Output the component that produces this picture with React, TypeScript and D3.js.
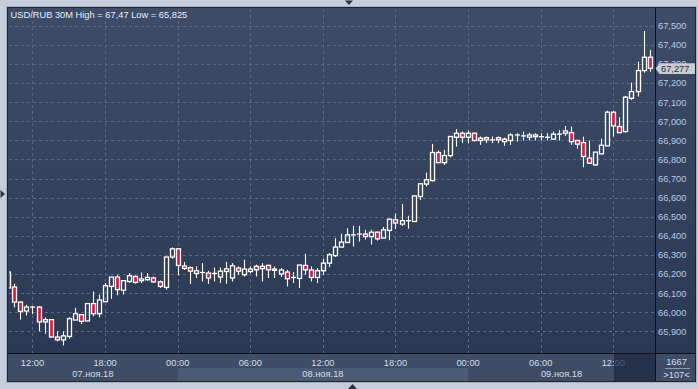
import React from "react";
import * as d3 from "d3";

const opens = [66.210,66.132,66.053,66.006,66.027,66.027,65.949,65.961,65.870,65.855,65.873,65.959,65.987,65.954,66.045,65.992,66.055,66.135,66.184,66.115,66.161,66.187,66.165,66.170,66.179,66.159,66.130,66.289,66.332,66.242,66.233,66.203,66.208,66.205,66.203,66.184,66.213,66.179,66.231,66.196,66.213,66.240,66.228,66.245,66.226,66.200,66.210,66.182,66.177,66.245,66.221,66.182,66.217,66.257,66.296,66.341,66.365,66.405,66.409,66.409,66.396,66.419,66.388,66.428,66.484,66.461,66.479,66.475,66.606,66.671,66.689,66.836,66.783,66.820,66.916,66.937,66.916,66.937,66.899,66.914,66.902,66.914,66.893,66.899,66.928,66.923,66.916,66.919,66.919,66.916,66.906,66.932,66.937,66.940,66.899,66.888,66.807,66.771,66.829,66.871,67.047,66.972,66.946,67.120,67.155,67.265,67.335];
const highs = [66.225,66.149,66.055,66.039,66.030,66.030,65.973,65.961,65.900,65.900,65.975,66.023,65.987,66.045,66.109,66.092,66.153,66.184,66.196,66.165,66.205,66.192,66.208,66.205,66.187,66.166,66.289,66.339,66.335,66.263,66.240,66.240,66.257,66.217,66.234,66.234,66.263,66.257,66.240,66.275,66.240,66.249,66.257,66.249,66.240,66.231,66.222,66.210,66.247,66.306,66.240,66.231,66.280,66.310,66.388,66.411,66.440,66.452,66.452,66.432,66.432,66.423,66.446,66.487,66.516,66.567,66.505,66.609,66.672,66.731,66.881,66.846,66.850,66.920,66.958,66.946,66.951,66.940,66.920,66.920,66.920,66.920,66.914,66.937,66.937,66.946,66.940,66.937,66.937,66.937,66.946,66.954,66.975,66.972,66.902,66.919,66.899,66.838,66.909,67.055,67.055,67.021,67.132,67.202,67.312,67.472,67.373];
const lows = [66.120,66.025,65.961,65.983,65.990,65.900,65.887,65.868,65.848,65.826,65.862,65.959,65.938,65.954,65.979,65.973,66.055,66.070,66.088,66.092,66.153,66.149,66.153,66.165,66.153,66.127,66.118,66.280,66.193,66.221,66.148,66.179,66.161,66.148,66.161,66.153,66.149,66.161,66.196,66.187,66.205,66.187,66.161,66.179,66.179,66.184,66.135,66.153,66.127,66.196,66.161,66.153,66.196,66.236,66.289,66.341,66.365,66.344,66.370,66.380,66.354,66.375,66.388,66.377,66.435,66.452,66.437,66.475,66.588,66.658,66.684,66.783,66.771,66.810,66.867,66.885,66.885,66.893,66.876,66.885,66.885,66.885,66.871,66.876,66.893,66.899,66.899,66.899,66.899,66.899,66.906,66.899,66.923,66.876,66.855,66.759,66.780,66.768,66.829,66.871,66.920,66.937,66.940,67.111,67.129,67.254,67.259];
const closes = [66.127,66.053,66.004,66.027,66.027,65.949,65.961,65.870,65.855,65.876,65.966,65.992,65.952,66.045,65.992,66.064,66.139,66.184,66.118,66.165,66.191,66.156,66.174,66.182,66.159,66.135,66.289,66.332,66.245,66.229,66.215,66.217,66.208,66.179,66.203,66.215,66.227,66.243,66.215,66.226,66.226,66.222,66.240,66.222,66.219,66.221,66.175,66.182,66.247,66.222,66.182,66.217,66.257,66.301,66.341,66.367,66.405,66.405,66.409,66.396,66.419,66.384,66.431,66.487,66.467,66.479,66.479,66.609,66.672,66.693,66.836,66.783,66.820,66.920,66.937,66.916,66.937,66.899,66.911,66.902,66.902,66.902,66.906,66.928,66.928,66.923,66.928,66.928,66.919,66.916,66.932,66.932,66.949,66.893,66.880,66.815,66.780,66.838,66.874,67.047,66.975,66.940,67.126,67.155,67.265,67.335,67.277];

const priceTicks = [65.9,66.0,66.1,66.2,66.3,66.4,66.5,66.6,66.7,66.8,66.9,67.0,67.1,67.2,67.3,67.4,67.5];
const timeTickIdx = [4,16,28,40,52,64,76,88,100];
const timeTickLabels = ["12:00","18:00","00:00","06:00","12:00","18:00","00:00","06:00","12:00"];
const dayStartIdx = [0,28,76];
const dayLabels = ["07.ноя.18","08.ноя.18","09.ноя.18"];
const title = "USD/RUB 30M High = 67,47 Low = 65,825";
const lastPrice = 67.277;

const FONT = "'Liberation Sans', Arial, sans-serif";

export default function App() {
  const L = 8, T = 8, R = 655, B = 353, PR = 695, PB = 381;
  const n = opens.length;
  const x = d3.scaleLinear().domain([0, n - 1]).range([8.3, 8.3 + 6.05 * (n - 1)]);
  const y = d3.scaleLinear().domain([65.9, 67.5]).range([331.3, 25.7]);
  const fmt = (v: number) => d3.format(".3f")(v).replace(".", ",");
  const red = "#e0173a";
  const dayEnds = [...dayStartIdx.slice(1).map((i) => x(i) - 0.0), R];
  const dayStarts = dayStartIdx.map((i, k) => (k === 0 ? L : x(i)));

  return (
    <svg width={698} height={389} style={{ position: "fixed", left: 0, top: 0 }} fontFamily={FONT}>
      <defs>
        <linearGradient id="bg" x1="0" y1="0" x2="0" y2="1">
          <stop offset="0" stopColor="#3e4c68" />
          <stop offset="1" stopColor="#2b3852" />
        </linearGradient>
        <clipPath id="plotClip">
          <rect x={L + 1} y={T} width={R - L - 1} height={B - T} />
        </clipPath>
      </defs>
      <rect x={0} y={0} width={698} height={389} fill="#c3cddb" />
      <rect x={6.5} y={6.5} width={PR - 5} height={PB - 5} fill="none" stroke="#a6b1c1" />
      <rect x={L} y={T} width={PR - L} height={B - T} fill="url(#bg)" />
      <rect x={7.5} y={7.5} width={PR - 7} height={PB - 7} fill="none" stroke="#1f242d" />

      {/* grid */}
      <g stroke="#5a6884" strokeWidth={1} strokeDasharray="3,3">
        {priceTicks.map((p) => (
          <line key={"h" + p} x1={L + 1} x2={R} y1={Math.round(y(p)) + 0.5} y2={Math.round(y(p)) + 0.5} />
        ))}
        {timeTickIdx.map((i) => (
          <line key={"v" + i} x1={Math.round(x(i)) + 0.5} x2={Math.round(x(i)) + 0.5} y1={T + 1} y2={B} />
        ))}
      </g>

      {/* candles */}
      <g clipPath="url(#plotClip)">
        {opens.map((o, i) => {
          const c = closes[i];
          const cx = Math.round(x(i)) + 0.5;
          const yT = y(Math.max(o, c));
          const yB = y(Math.min(o, c));
          const down = c < o;
          const hb = yB - yT;
          return (
            <g key={i}>
              <line x1={cx} x2={cx} y1={y(highs[i])} y2={yT} stroke="#fff" strokeWidth={1.1} />
              <line x1={cx} x2={cx} y1={yB} y2={y(lows[i])} stroke="#fff" strokeWidth={1.1} />
              {hb < 1.2 ? (
                <line x1={cx - 2.5} x2={cx + 2.5} y1={(yT + yB) / 2} y2={(yT + yB) / 2} stroke="#fff" strokeWidth={1.3} />
              ) : (
                <rect x={cx - 2} y={yT} width={4} height={hb} fill={down ? red : "none"} stroke="#fff" strokeWidth={1.3} />
              )}
            </g>
          );
        })}
      </g>

      {/* title */}
      <text x={10.5} y={18} fontSize={9.3} fill="#e8eef7">{title}</text>

      {/* right axis */}
      <line x1={R + 0.5} x2={R + 0.5} y1={T} y2={PB} stroke="#0d1016" strokeWidth={1} />
      {priceTicks.map((p) => (
        <text key={"yl" + p} x={658} y={y(p) + 3.4} fontSize={9.3} fill="#b2cbea">{fmt(p)}</text>
      ))}
      <path
        d={`M${R + 0.5},${y(lastPrice) + 0.3} L${R + 4.5},${y(lastPrice) - 5} L${PR},${y(lastPrice) - 5} L${PR},${y(lastPrice) + 5.7} L${R + 4.5},${y(lastPrice) + 5.7} Z`}
        fill="#c8ccd3"
      />
      <text x={661} y={y(lastPrice) + 3.8} fontSize={9.3} fill="#2a3242">{fmt(lastPrice)}</text>

      {/* bottom axis */}
      <rect x={L} y={B + 1} width={PR - L} height={PB - B - 1} fill="#3e4c66" />
      {dayLabels.map((d, k) =>
        k % 2 === 1 ? (
          <rect key={"band" + k} x={dayStarts[k]} y={368} width={dayEnds[k] - dayStarts[k]} height={PB - 368} fill="#4b5a75" />
        ) : null
      )}
      <line x1={L} x2={PR} y1={B + 0.5} y2={B + 0.5} stroke="#0d1016" strokeWidth={1} />
      {timeTickIdx.map((i, k) => (
        <text key={"tl" + k} x={x(i)} y={366} fontSize={9.3} textAnchor="middle" fill="#d4deec">{timeTickLabels[k]}</text>
      ))}
      {dayLabels.map((d, k) => (
        <text key={"dl" + k} x={(dayStarts[k] + dayEnds[k]) / 2} y={377} fontSize={9.3} textAnchor="middle" fill="#d4deec">{d}</text>
      ))}
      <rect x={Math.round(x(100)) + 1} y={B + 1} width={R - Math.round(x(100)) - 1} height={PB - B - 1} fill="#1c2740" opacity={0.72} />
      <line x1={R + 0.5} x2={R + 0.5} y1={B} y2={PB} stroke="#0d1016" strokeWidth={1} />
      <text x={676.5} y={365} fontSize={9.3} textAnchor="middle" fill="#d4deec">1667</text>
      <line x1={665} x2={690} y1={368.5} y2={368.5} stroke="#8c9bb2" strokeWidth={1} />
      <text x={676.5} y={377.5} fontSize={9.3} textAnchor="middle" fill="#d4deec">{">107<"}</text>

      {/* scroll markers */}
      <path d="M345,0.5 L353,0.5 L349,5 Z" fill="#2a3140" />
      <path d="M0.5,190 L0.5,198 L5,194 Z" fill="#2a3140" />
      <path d="M348,389 L357,389 L352.5,384 Z" fill="#2a3140" />
    </svg>
  );
}
